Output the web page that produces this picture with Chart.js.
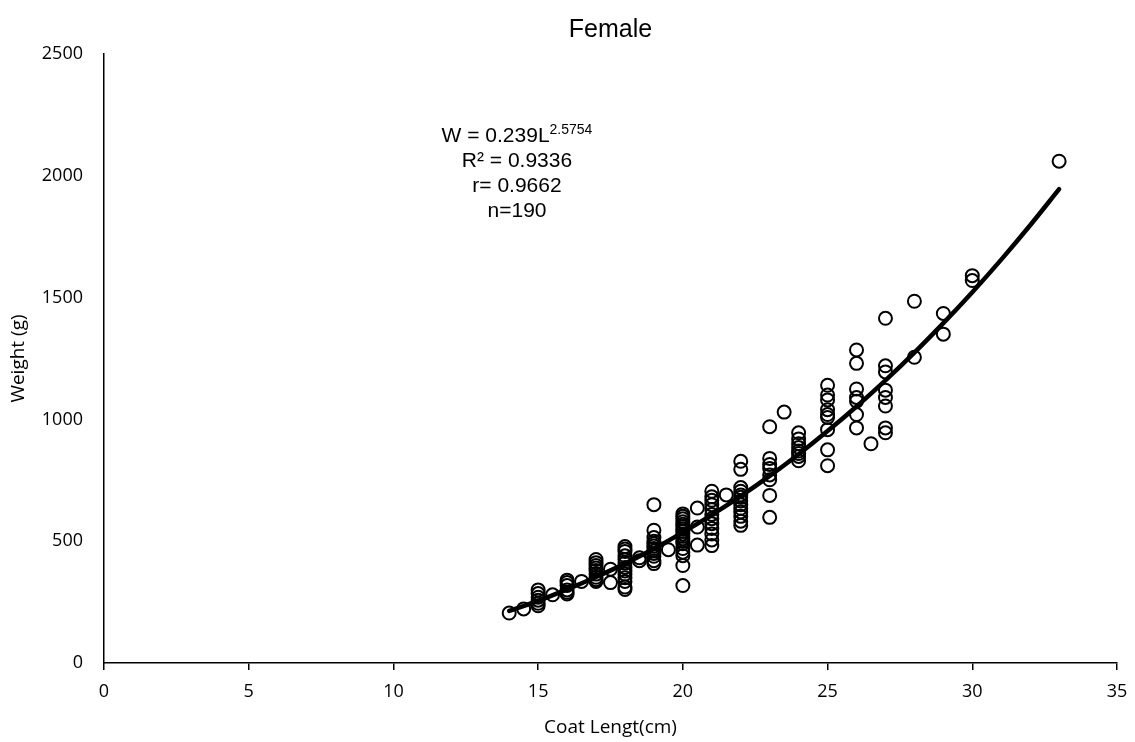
<!DOCTYPE html>
<html>
<head>
<meta charset="utf-8">
<script src="https://cdn.jsdelivr.net/npm/chart.js@4/dist/chart.umd.min.js"></script>
<style>
  html, body { margin: 0; padding: 0; background: #fff; }
  #wrap { width: 1135px; height: 742px; position: relative; }
</style>
</head>
<body>
<div id="wrap"><canvas id="c"></canvas></div>
<script>
// ---- Data ----
const chartTitle = "Female";
const xAxisTitle = "Coat Lengt(cm)";
const yAxisTitle = "Weight (g)";

// Observed points: coat length (cm) and weight (g), grouped by length
const groupLengths = [14, 14.5, 15, 15.5, 16, 16.5, 17, 17.5, 18, 18.5, 19, 19.5, 20, 20.5, 21, 21.5, 22, 23, 23.5, 24, 25, 26, 26.5, 27, 28, 29, 30, 33];
const groupWeights = [
  [205],
  [222],
  [300, 285, 270, 258, 245, 235],
  [280],
  [340, 330, 318, 300, 290, 283],
  [335],
  [425, 412, 400, 390, 380, 365, 352, 342, 335],
  [385, 330],
  [478, 468, 458, 440, 425, 410, 392, 378, 365, 350, 335, 312, 302],
  [420, 432],
  [650, 545, 515, 500, 490, 480, 470, 460, 450, 438, 420, 408],
  [465],
  [612, 602, 592, 580, 570, 560, 550, 540, 530, 520, 510, 500, 490, 470, 455, 440, 400, 318],
  [636, 558, 484],
  [705, 682, 668, 650, 630, 610, 592, 572, 552, 530, 505, 482],
  [690],
  [828, 795, 720, 705, 690, 680, 665, 650, 635, 620, 602, 582, 565],
  [970, 840, 815, 798, 772, 752, 688, 598],
  [1030],
  [945, 920, 900, 885, 870, 860, 848, 830],
  [1140, 1100, 1080, 1040, 1020, 1008, 958, 875, 810],
  [1285, 1230, 1125, 1090, 1075, 1020, 965],
  [900],
  [1415, 1220, 1195, 1120, 1090, 1055, 965, 945],
  [1485, 1255],
  [1435, 1350],
  [1590, 1570],
  [2060]
];

// Power trend line W = 0.239 L^2.5754
const trendLengths = [14, 15, 16, 17, 18, 19, 20, 21, 22, 23, 24, 25, 26, 27, 28, 29, 30, 31, 32, 33];
const trendWeights = [214, 255, 302, 353, 408, 469, 536, 608, 685, 768, 857, 952, 1053, 1160, 1274, 1395, 1522, 1656, 1797, 1945];

const xTicksMax = 35, xStep = 5;
const yTicksMax = 2500, yStep = 500;

const eqMain = "W = 0.239L";
const eqExp = "2.5754";
const statLines = ["R\u00B2 = 0.9336", "r= 0.9662", "n=190"];

// ---- Build datasets ----
const points = [];
groupLengths.forEach((L, i) => groupWeights[i].forEach(w => points.push({ x: L, y: w })));
const trend = trendLengths.map((L, i) => ({ x: L, y: trendWeights[i] }));

const textPlugin = {
  id: 'eqText',
  afterDraw(chart) {
    const ctx = chart.ctx;
    const a = chart.chartArea;
    ctx.save();
    ctx.fillStyle = '#000';
    // Chart title, centred over the plot area
    ctx.font = '25px "Liberation Sans", Arial, sans-serif';
    ctx.textAlign = 'center';
    ctx.textBaseline = 'middle';
    ctx.fillText(chartTitle, (a.left + a.right) / 2, a.top - 24);

    // Equation block
    const cx = a.left + 413;
    ctx.textBaseline = 'alphabetic';
    const mainFont = '21px "Liberation Sans", Arial, sans-serif';
    const supFont = '14px "Liberation Sans", Arial, sans-serif';
    ctx.font = mainFont;
    const w1 = ctx.measureText(eqMain).width;
    ctx.font = supFont;
    const w2 = ctx.measureText(eqExp).width;
    const x0 = cx - (w1 + w2) / 2;
    const base1 = a.top + 88;
    ctx.font = mainFont;
    ctx.textAlign = 'left';
    ctx.fillText(eqMain, x0, base1);
    ctx.font = supFont;
    ctx.fillText(eqExp, x0 + w1, base1 - 8);
    ctx.font = mainFont;
    ctx.textAlign = 'center';
    statLines.forEach((t, i) => ctx.fillText(t, cx, base1 + 25 * (i + 1)));
    ctx.restore();
  }
};

const tickFont = { family: '"Open Sans", sans-serif', size: 18 };
const titleFont = { family: '"Open Sans", sans-serif', size: 19, lineHeight: 1.2 };

new Chart(document.getElementById('c'), {
  type: 'scatter',
  data: {
    datasets: [
      {
        type: 'line',
        label: 'trend',
        data: trend,
        borderColor: '#000',
        borderWidth: 4.5,
        pointRadius: 0,
        fill: false,
        cubicInterpolationMode: 'monotone',
        borderCapStyle: 'round',
        order: 0
      },
      {
        label: 'points',
        data: points,
        pointRadius: 6.5,
        pointBorderWidth: 2,
        pointBorderColor: '#000',
        pointBackgroundColor: 'rgba(255,255,255,0)',
        order: 1
      }
    ]
  },
  options: {
    responsive: true,
    maintainAspectRatio: false,
    animation: false,
    events: [],
    layout: { padding: { left: 0, right: 18, top: 54, bottom: 0 } },
    plugins: {
      legend: { display: false },
      tooltip: { enabled: false },
      title: { display: false }
    },
    scales: {
      x: {
        type: 'linear',
        min: 0, max: xTicksMax,
        afterFit(scale) { scale.height = 79; scale.paddingRight = 0; scale.paddingLeft = 0; },
        ticks: { stepSize: xStep, color: '#000', font: tickFont, padding: 11, maxRotation: 0,
                 callback: v => String(v) },
        grid: { drawOnChartArea: false, drawTicks: true, tickLength: 7, color: '#000', lineWidth: 1.5 },
        border: { color: '#000', width: 1.5 },
        title: { display: true, text: xAxisTitle, color: '#000', font: titleFont, padding: { top: 0, bottom: 3 } }
      },
      y: {
        type: 'linear',
        min: 0, max: yTicksMax,
        afterFit(scale) { scale.width = 104; scale.paddingTop = 0; scale.paddingBottom = 0; },
        ticks: { stepSize: yStep, color: '#000', font: tickFont, padding: 21,
                 callback: v => String(v) },
        grid: { drawOnChartArea: false, drawTicks: false, tickLength: 0 },
        border: { color: '#000', width: 1.5 },
        title: { display: true, text: yAxisTitle, color: '#000', font: titleFont, padding: { top: 7, bottom: 0 } }
      }
    }
  },
  plugins: [textPlugin]
});
</script>
</body>
</html>
